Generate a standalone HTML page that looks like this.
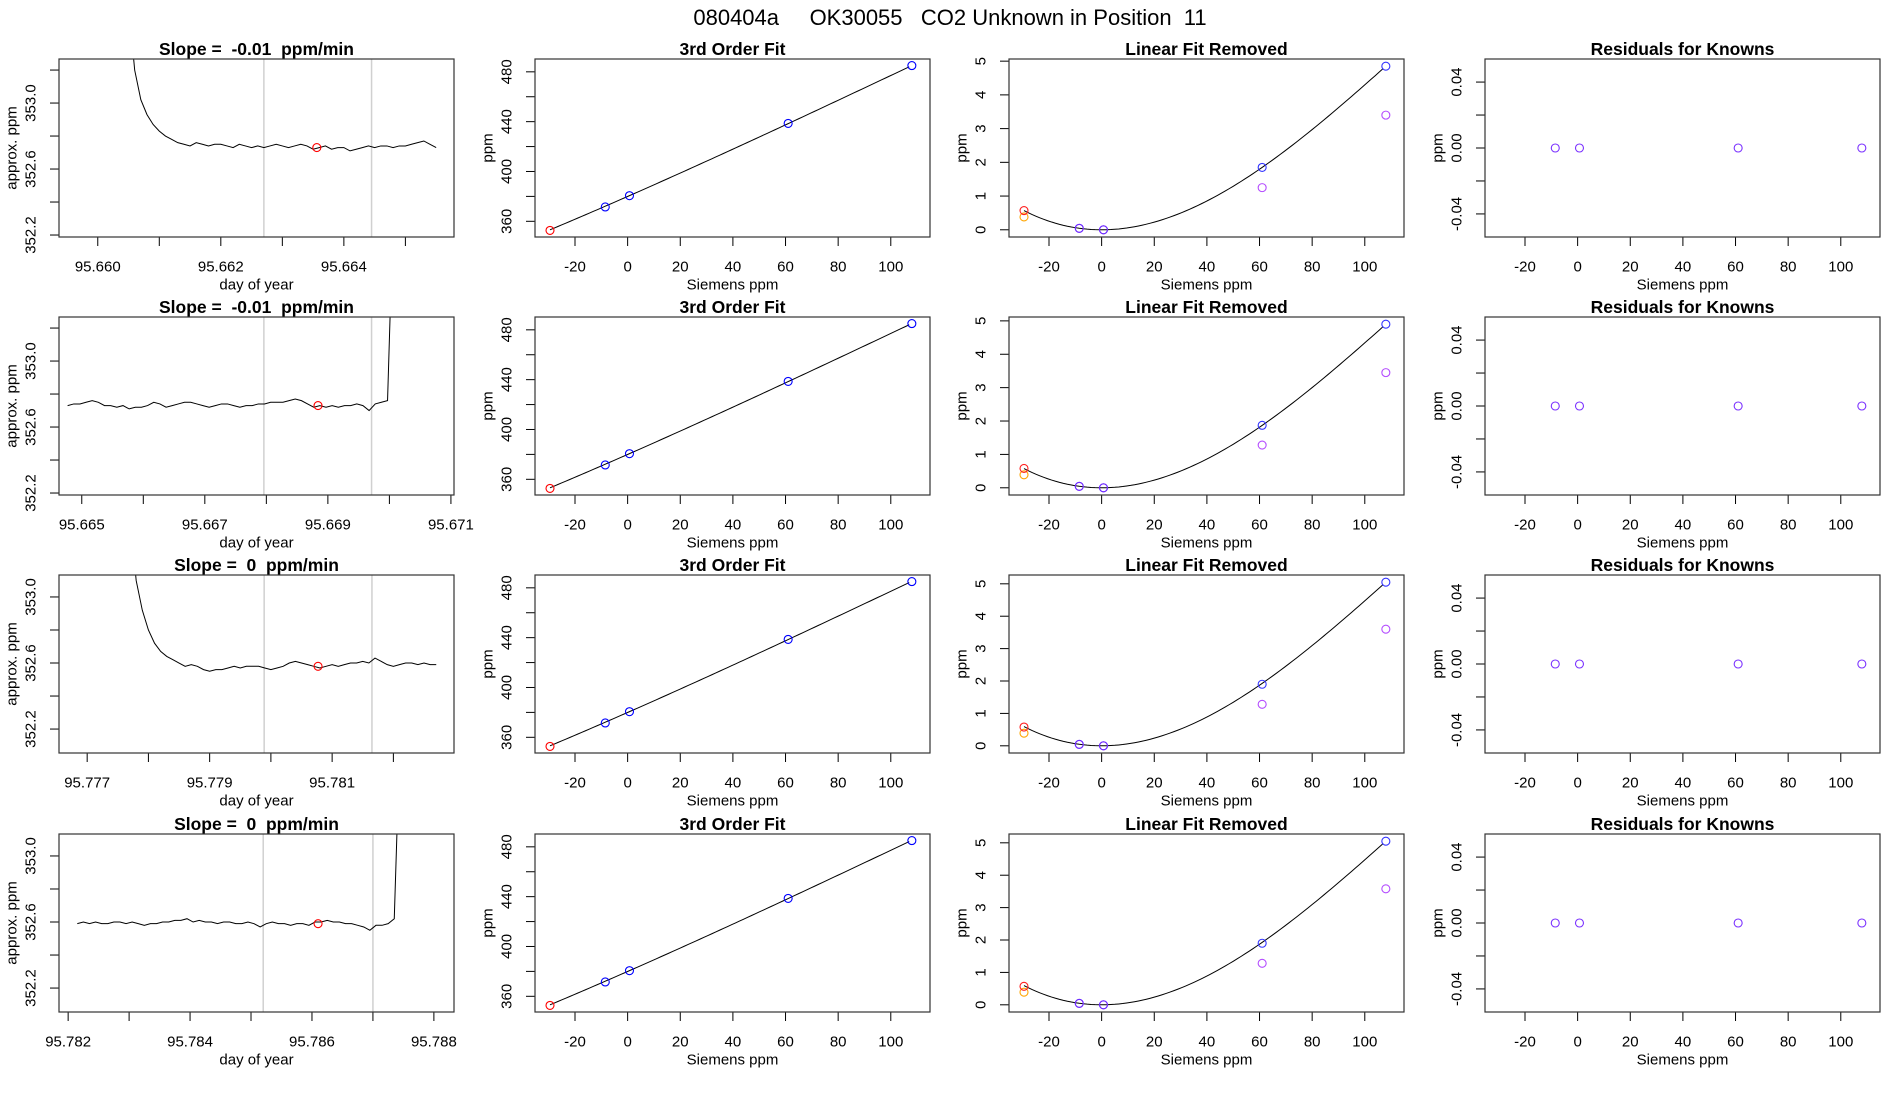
<!DOCTYPE html>
<html><head><meta charset="utf-8">
<style>
html,body{margin:0;padding:0;background:#fff;}
svg{display:block;font-family:"Liberation Sans",sans-serif;}
text{white-space:pre;}
</style></head>
<body>
<svg id="chart" width="1900" height="1100" viewBox="0 0 1900 1100" xmlns="http://www.w3.org/2000/svg">
<rect x="0" y="0" width="1900" height="1100" fill="#fff"/>
<text x="950" y="25" text-anchor="middle" font-size="22">080404a     OK30055   CO2 Unknown in Position  11</text>
</svg>
<script>
// ---------- data ----------
const slopeLabels = ["-0.01", "-0.01", "0", "0"];
const tsStart = [95.6605, 95.66477, 95.7777, 95.78215];
const tsStep = [0.0001, 0.0001, 0.0001, 0.0001];
const ts1 = [353.6,353.2,353.02,352.93,352.87,352.83,352.80,352.78,352.76,352.75,352.74,352.76,352.75,352.74,352.75,352.75,352.74,352.73,352.75,352.74,352.73,352.74,352.73,352.74,352.75,352.74,352.73,352.74,352.75,352.74,352.72,352.73,352.74,352.72,352.73,352.73,352.71,352.72,352.73,352.74,352.73,352.74,352.74,352.73,352.74,352.74,352.75,352.76,352.77,352.75,352.73];
const ts2 = [352.73,352.74,352.74,352.75,352.76,352.75,352.73,352.73,352.72,352.73,352.71,352.72,352.72,352.73,352.75,352.74,352.72,352.73,352.74,352.75,352.75,352.74,352.73,352.72,352.73,352.74,352.74,352.73,352.72,352.73,352.73,352.74,352.74,352.75,352.75,352.75,352.76,352.77,352.76,352.74,352.72,352.73,352.72,352.73,352.72,352.73,352.73,352.74,352.73,352.70,352.74,352.75,352.76,354.0];
const ts3 = [353.5,353.1,352.92,352.80,352.72,352.67,352.64,352.62,352.60,352.58,352.59,352.58,352.56,352.55,352.56,352.56,352.57,352.58,352.57,352.58,352.58,352.58,352.57,352.56,352.57,352.58,352.60,352.61,352.60,352.59,352.58,352.57,352.58,352.59,352.58,352.59,352.60,352.60,352.61,352.60,352.63,352.61,352.59,352.58,352.59,352.60,352.60,352.59,352.60,352.59,352.59];
const ts4 = [352.59,352.60,352.59,352.60,352.59,352.59,352.60,352.60,352.59,352.60,352.59,352.58,352.59,352.59,352.60,352.60,352.61,352.61,352.62,352.60,352.61,352.60,352.60,352.59,352.60,352.60,352.59,352.59,352.60,352.59,352.57,352.59,352.60,352.59,352.59,352.58,352.59,352.59,352.58,352.60,352.60,352.61,352.60,352.60,352.59,352.59,352.58,352.57,352.55,352.58,352.58,352.59,352.62,353.8];
const series = [ts1, ts2, ts3, ts4];
const sampleTime = [95.66356, 95.66884, 95.78077, 95.7861];
const sampleValue = [352.73, 352.73, 352.58, 352.59];
const vline1 = [95.6627, 95.66796, 95.77989, 95.7852];
const vline2 = [95.66445, 95.66971, 95.78165, 95.787];
const timeMin = [95.65937, 95.66463, 95.77654, 95.78185];
const timeMax = [95.66579, 95.67105, 95.78299, 95.78833];
const ppmMin = [352.188, 352.188, 352.055, 352.055];
const ppmMax = [353.267, 353.267, 353.133, 353.133];
const timeTicks = [[95.660,95.661,95.662,95.663,95.664,95.665],[95.665,95.666,95.667,95.668,95.669,95.670,95.671],[95.777,95.778,95.779,95.780,95.781,95.782],[95.782,95.783,95.784,95.785,95.786,95.787,95.788]];
const timeTickLabels = [["95.660","","95.662","","95.664",""],["95.665","","95.667","","95.669","","95.671"],["95.777","","95.779","","95.781",""],["95.782","","95.784","","95.786","","95.788"]];
const ppmTicks = [352.2,352.4,352.6,352.8,353.0,353.2];
const ppmTickLabels = ["352.2","","352.6","","353.0",""];

const knownX = [-8.5, 0.7, 61, 108];
const knownPpm = [371.5, 380.6, 438.6, 485];
const unknownX = -29.5;
const unknownPpm = 352.7;
const linA = 379.95, linB = 0.928;
const fitC2 = [6.028e-4, 6.09e-4, 6.277e-4, 6.277e-4];
const fitC3 = [-1.731e-6, -1.749e-6, -1.802e-6, -1.802e-6];
const knownResid = [[0.045,0,1.85,4.85],[0.045,0,1.87,4.9],[0.046,0,1.9,5.05],[0.046,0,1.9,5.05]];
const purpleResid = [[0.04,0,1.25,3.4],[0.04,0,1.28,3.45],[0.04,0,1.28,3.6],[0.04,0,1.28,3.58]];
const unknownResid = [0.57, 0.58, 0.58, 0.57];
const orangeResid = [0.38, 0.39, 0.39, 0.39];
const knownResidual = [0, 0, 0, 0];
const sieTicks = [-20,0,20,40,60,80,100];
const fitTicks = [360,380,400,420,440,460,480];
const fitTickLabels = ["360","","400","","440","","480"];
const linTicks = [0,1,2,3,4,5];
const resTicks = [-0.04,-0.02,0,0.02,0.04];
const resTickLabels = ["-0.04","","0.00","","0.04"];

// ---------- layout ----------
const NS = "http://www.w3.org/2000/svg";
const svg = document.getElementById("chart");
const colX = [59, 535, 1009, 1485], colW = 395;
const rowY = [59, 317, 575, 834], rowH = 178;
function el(tag, attrs, parent) {
  const e = document.createElementNS(NS, tag);
  for (const k in attrs) e.setAttribute(k, attrs[k]);
  (parent || svg).appendChild(e);
  return e;
}
function txt(parent, x, y, s, size, extra) {
  const t = el("text", Object.assign({x: x, y: y, "font-size": size, "text-anchor": "middle", "dominant-baseline": "central"}, extra || {}), parent);
  t.textContent = s;
  return t;
}
function scale(d0, d1, r0, r1) { return v => r0 + (v - d0) / (d1 - d0) * (r1 - r0); }

function panel(r, c, title, xlab, ylab, xmin, xmax, ymin, ymax, xt, xtl, yt, ytl) {
  const g = el("g", {});
  
  
  const L = colX[c], T = rowY[r], R = L + colW, B = T + rowH;
  const sx = scale(xmin, xmax, L, R), sy = scale(ymin, ymax, B, T);
  const tt = txt(g, (L + R) / 2, T - 10, title, 17.5, {"font-weight": "bold"});
  
  
  const xl = txt(g, (L + R) / 2, B + 48, xlab, 15);
  
  
  const yl = txt(g, L - 47, (T + B) / 2, ylab, 15, {transform: "rotate(-90 " + (L - 47) + " " + ((T + B) / 2) + ")"});
  
  
  const xa = el("g", {}, g);
  
  
  xt.forEach((v, i) => {
    if (v < xmin || v > xmax) return;
    const x = sx(v);
    el("line", {x1: x, x2: x, y1: B, y2: B + 9, stroke: "#000", "stroke-width": 1}, xa);
    if (xtl[i]) txt(xa, x, B + 30, xtl[i], 15);
  });
  const ya = el("g", {}, g);
  
  
  yt.forEach((v, i) => {
    if (v < ymin || v > ymax) return;
    const y = sy(v);
    el("line", {x1: L - 9, x2: L, y1: y, y2: y, stroke: "#000", "stroke-width": 1}, ya);
    if (ytl[i]) txt(ya, L - 28, y, ytl[i], 15, {transform: "rotate(-90 " + (L - 28) + " " + y + ")"});
  });
  const clipId = "clip" + r + c;
  const cp = el("clipPath", {id: clipId}, g);
  el("rect", {x: L, y: T, width: colW, height: rowH}, cp);
  const plot = el("g", {"clip-path": "url(#" + clipId + ")"}, g);
  
  
  const box = el("rect", {x: L, y: T, width: colW, height: rowH, fill: "none", stroke: "#333", "stroke-width": 1.2}, g);
  
  
  return {g: plot, sx: sx, sy: sy, T: T, B: B};
}
function circ(p, x, y, color, name) {
  const c = el("circle", {cx: p.sx(x), cy: p.sy(y), r: 4, fill: "none", stroke: color, "stroke-width": 1.1}, p.g);
  
  
}
function resid(r, x) { return fitC2[r] * x * x + fitC3[r] * x * x * x; }

for (let r = 0; r < 4; r++) {
  let p = panel(r, 0, "Slope =  " + slopeLabels[r] + "  ppm/min", "day of year", "approx. ppm",
    timeMin[r], timeMax[r], ppmMin[r], ppmMax[r], timeTicks[r], timeTickLabels[r], ppmTicks, ppmTickLabels);
  [vline1[r], vline2[r]].forEach(v => {
    const l = el("line", {x1: p.sx(v), x2: p.sx(v), y1: p.T, y2: p.B, stroke: "#d0d0d0", "stroke-width": 1.5}, p.g);
    
    
  });
  const pts = series[r].map((v, i) => p.sx(tsStart[r] + i * tsStep[r]).toFixed(2) + "," + p.sy(v).toFixed(2)).join(" ");
  const pl = el("polyline", {points: pts, fill: "none", stroke: "#000", "stroke-width": 1}, p.g);
  
  
  circ(p, sampleTime[r], sampleValue[r], "#ff0000", "sample-point");

  p = panel(r, 1, "3rd Order Fit", "Siemens ppm", "ppm", -35.2, 114.9, 347.4, 490.3, sieTicks, sieTicks.map(String), fitTicks, fitTickLabels);
  let cp = [];
  for (let x = unknownX; x <= 108.01; x += 1.5) cp.push(p.sx(x).toFixed(2) + "," + p.sy(linA + linB * x + resid(r, x)).toFixed(2));
  let fl = el("polyline", {points: cp.join(" "), fill: "none", stroke: "#000", "stroke-width": 1}, p.g);
  
  
  knownX.forEach((x, i) => circ(p, x, knownPpm[i], "#0000ff", "known-point"));
  circ(p, unknownX, unknownPpm, "#ff0000", "unknown-point");

  const top = knownResid[r][3];
  p = panel(r, 2, "Linear Fit Removed", "Siemens ppm", "ppm", -35.2, 114.9, -0.04 * top - 0.02, top * 1.04 + 0.02, sieTicks, sieTicks.map(String), linTicks, linTicks.map(String));
  cp = [];
  for (let x = unknownX; x <= 108.01; x += 1.5) cp.push(p.sx(x).toFixed(2) + "," + p.sy(resid(r, x)).toFixed(2));
  fl = el("polyline", {points: cp.join(" "), fill: "none", stroke: "#000", "stroke-width": 1}, p.g);
  
  
  knownX.forEach((x, i) => circ(p, x, purpleResid[r][i], "#b44dff", "linear-removed-point"));
  knownX.forEach((x, i) => circ(p, x, knownResid[r][i], i < 2 ? "#6a2cff" : "#3333ff", "known-residual-point"));
  circ(p, unknownX, orangeResid[r], "#ffa500", "unknown-alt-point");
  circ(p, unknownX, unknownResid[r], "#ff2020", "unknown-residual-point");

  p = panel(r, 3, "Residuals for Knowns", "Siemens ppm", "ppm", -35.2, 114.9, -0.054, 0.054, sieTicks, sieTicks.map(String), resTicks, resTickLabels);
  knownX.forEach((x, i) => circ(p, x, knownResidual[i], "#7a30ff", "known-fit-residual"));
}
</script>
</body></html>
